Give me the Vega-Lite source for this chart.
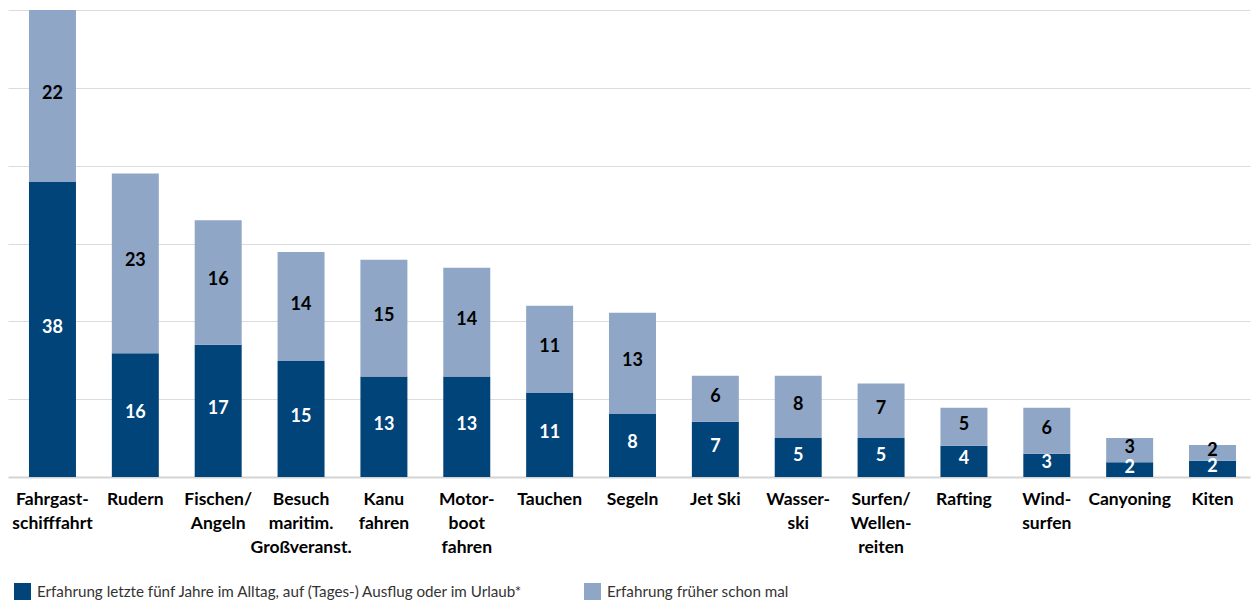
{
  "$schema": "https://vega.github.io/schema/vega-lite/v6.json",
  "width": 1242,
  "height": 467,
  "autosize": {"type": "none"},
  "padding": {"left": 8, "top": 10, "right": 2, "bottom": 127},
  "background": "#ffffff",
  "config": {
    "font": "Lato",
    "view": {"stroke": null}
  },
  "data": {
    "values": [
      {"activity": "Fahrgast-\nschifffahrt", "series": "Erfahrung letzte fünf Jahre im Alltag, auf (Tages-) Ausflug oder im Urlaub*", "value": 37.9},
      {"activity": "Fahrgast-\nschifffahrt", "series": "Erfahrung früher schon mal", "value": 22.1},
      {"activity": "Rudern", "series": "Erfahrung letzte fünf Jahre im Alltag, auf (Tages-) Ausflug oder im Urlaub*", "value": 15.9},
      {"activity": "Rudern", "series": "Erfahrung früher schon mal", "value": 23.1},
      {"activity": "Fischen/\nAngeln", "series": "Erfahrung letzte fünf Jahre im Alltag, auf (Tages-) Ausflug oder im Urlaub*", "value": 17.0},
      {"activity": "Fischen/\nAngeln", "series": "Erfahrung früher schon mal", "value": 16.0},
      {"activity": "Besuch\nmaritim.\nGroßveranst.", "series": "Erfahrung letzte fünf Jahre im Alltag, auf (Tages-) Ausflug oder im Urlaub*", "value": 14.9},
      {"activity": "Besuch\nmaritim.\nGroßveranst.", "series": "Erfahrung früher schon mal", "value": 14.0},
      {"activity": "Kanu\nfahren", "series": "Erfahrung letzte fünf Jahre im Alltag, auf (Tages-) Ausflug oder im Urlaub*", "value": 12.9},
      {"activity": "Kanu\nfahren", "series": "Erfahrung früher schon mal", "value": 15.0},
      {"activity": "Motor-\nboot\nfahren", "series": "Erfahrung letzte fünf Jahre im Alltag, auf (Tages-) Ausflug oder im Urlaub*", "value": 12.9},
      {"activity": "Motor-\nboot\nfahren", "series": "Erfahrung früher schon mal", "value": 14.0},
      {"activity": "Tauchen", "series": "Erfahrung letzte fünf Jahre im Alltag, auf (Tages-) Ausflug oder im Urlaub*", "value": 10.8},
      {"activity": "Tauchen", "series": "Erfahrung früher schon mal", "value": 11.2},
      {"activity": "Segeln", "series": "Erfahrung letzte fünf Jahre im Alltag, auf (Tages-) Ausflug oder im Urlaub*", "value": 8.1},
      {"activity": "Segeln", "series": "Erfahrung früher schon mal", "value": 13.0},
      {"activity": "Jet Ski", "series": "Erfahrung letzte fünf Jahre im Alltag, auf (Tages-) Ausflug oder im Urlaub*", "value": 7.1},
      {"activity": "Jet Ski", "series": "Erfahrung früher schon mal", "value": 5.9},
      {"activity": "Wasser-\nski", "series": "Erfahrung letzte fünf Jahre im Alltag, auf (Tages-) Ausflug oder im Urlaub*", "value": 5.0},
      {"activity": "Wasser-\nski", "series": "Erfahrung früher schon mal", "value": 8.0},
      {"activity": "Surfen/\nWellen-\nreiten", "series": "Erfahrung letzte fünf Jahre im Alltag, auf (Tages-) Ausflug oder im Urlaub*", "value": 5.0},
      {"activity": "Surfen/\nWellen-\nreiten", "series": "Erfahrung früher schon mal", "value": 7.0},
      {"activity": "Rafting", "series": "Erfahrung letzte fünf Jahre im Alltag, auf (Tages-) Ausflug oder im Urlaub*", "value": 4.0},
      {"activity": "Rafting", "series": "Erfahrung früher schon mal", "value": 4.9},
      {"activity": "Wind-\nsurfen", "series": "Erfahrung letzte fünf Jahre im Alltag, auf (Tages-) Ausflug oder im Urlaub*", "value": 3.0},
      {"activity": "Wind-\nsurfen", "series": "Erfahrung früher schon mal", "value": 5.9},
      {"activity": "Canyoning", "series": "Erfahrung letzte fünf Jahre im Alltag, auf (Tages-) Ausflug oder im Urlaub*", "value": 1.9},
      {"activity": "Canyoning", "series": "Erfahrung früher schon mal", "value": 3.1},
      {"activity": "Kiten", "series": "Erfahrung letzte fünf Jahre im Alltag, auf (Tages-) Ausflug oder im Urlaub*", "value": 2.1},
      {"activity": "Kiten", "series": "Erfahrung früher schon mal", "value": 2.0}
    ]
  },
  "encoding": {
    "x": {
      "field": "activity",
      "type": "nominal",
      "sort": null,
      "scale": {"paddingInner": 0.433, "paddingOuter": 0.211, "align": 0.6},
      "axis": {
        "title": null,
        "labelAngle": 0,
        "labelExpr": "split(datum.label, '\\n')",
        "labelFont": "Lato",
        "labelFontSize": 17.5,
        "labelFontWeight": "bold",
        "labelColor": "#000000",
        "labelLineHeight": 24,
        "labelBaseline": "top",
        "labelPadding": 13,
        "labelLimit": 300,
        "ticks": false,
        "domain": true,
        "domainColor": "#d4d4d4",
        "domainWidth": 2
      }
    },
    "y": {
      "field": "value",
      "type": "quantitative",
      "stack": "zero",
      "scale": {"domain": [0, 60], "nice": false},
      "axis": {
        "title": null,
        "labels": false,
        "ticks": false,
        "domain": false,
        "values": [10, 20, 30, 40, 50, 60],
        "grid": true,
        "gridColor": "#dcdcdc",
        "gridWidth": 1
      }
    },
    "order": {"field": "series", "sort": "descending"}
  },
  "layer": [
    {
      "mark": {"type": "bar"},
      "encoding": {
        "color": {
          "field": "series",
          "type": "nominal",
          "scale": {
            "domain": ["Erfahrung letzte fünf Jahre im Alltag, auf (Tages-) Ausflug oder im Urlaub*", "Erfahrung früher schon mal"],
            "range": ["#004479", "#8fa6c6"]
          },
          "legend": {
            "title": null,
            "orient": "none",
            "direction": "horizontal",
            "legendX": 6,
            "legendY": 573,
            "symbolType": "square",
            "symbolSize": 289,
            "symbolStrokeWidth": 0,
            "labelFont": "Lato",
            "labelFontSize": 15.2,
            "labelColor": "#333333",
            "labelOffset": 6,
            "labelLimit": 700,
            "columnPadding": 60
          }
        }
      }
    },
    {
      "mark": {"type": "text", "font": "Lato", "fontSize": 18, "fontWeight": "bold", "baseline": "middle", "align": "center", "dy": -2},
      "encoding": {
        "y": {"field": "value", "type": "quantitative", "stack": "zero", "bandPosition": 0.5},
        "detail": {"field": "series"},
        "text": {"field": "value", "type": "quantitative", "format": ".0f"},
        "color": {
          "condition": {"test": "datum.series === 'Erfahrung früher schon mal'", "value": "#000000"},
          "value": "#ffffff"
        }
      }
    }
  ]
}
